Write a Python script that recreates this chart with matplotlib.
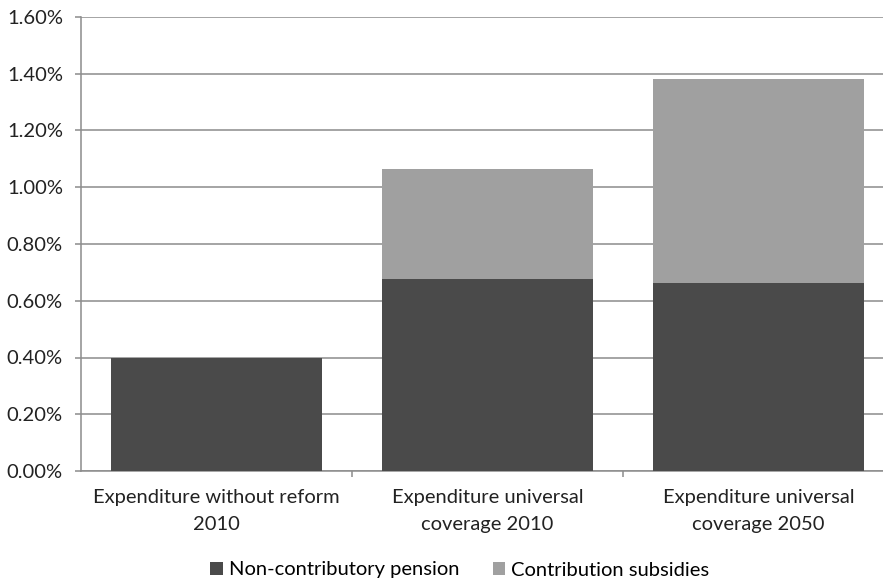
import matplotlib.pyplot as plt
from matplotlib.ticker import FuncFormatter, FixedLocator, NullFormatter

categories = ["Expenditure without reform\n2010",
              "Expenditure universal\ncoverage 2010",
              "Expenditure universal\ncoverage 2050"]
non_contributory = [0.40, 0.675, 0.661]
contribution_subsidies = [0.0, 0.388, 0.722]

plt.rcParams['font.family'] = ['Lato', 'DejaVu Sans']

fig = plt.figure(figsize=(8.83, 5.82), dpi=100)
ax = fig.add_axes([81 / 883, 1 - 471 / 582, 813 / 883, 454 / 582])

x = range(len(categories))
ax.bar(x, non_contributory, width=0.78, color='#4a4a4a',
       label='Non-contributory pension', zorder=3)
ax.bar(x, contribution_subsidies, width=0.78, bottom=non_contributory,
       color='#a0a0a0', label='Contribution subsidies', zorder=3)

ax.set_xlim(-0.5, 2.5)
ax.set_ylim(0, 1.6)
ax.set_yticks([i * 0.2 for i in range(9)])
ax.yaxis.set_major_formatter(FuncFormatter(lambda v, p: f'{v:.2f}%'))
ax.yaxis.grid(True, color='#8c8c8c', linewidth=1.1, zorder=0)

# category labels centred under bars, tick marks between them
ax.set_xticks(list(x))
ax.set_xticklabels(categories, fontsize=14.5, color='#222222', linespacing=1.7)
ax.tick_params(axis='x', length=0, pad=13)
ax.xaxis.set_minor_locator(FixedLocator([0.5, 1.5]))
ax.xaxis.set_minor_formatter(NullFormatter())
ax.tick_params(axis='x', which='minor', length=4, color='#8c8c8c', width=1.1)
ax.tick_params(axis='y', length=4, color='#8c8c8c', width=1.1, labelsize=14.5,
               labelcolor='#222222', pad=9)

for side in ['top', 'right']:
    ax.spines[side].set_visible(False)
for side in ['left', 'bottom']:
    ax.spines[side].set_color('#8c8c8c')
    ax.spines[side].set_linewidth(1.1)

fig.legend(loc='center', bbox_to_anchor=(460 / 883, 1 - 570 / 582), ncol=2,
           frameon=False, fontsize=14.5, handlelength=0.6, handleheight=0.6,
           handletextpad=0.3, columnspacing=1.7)

fig.savefig('out.png', dpi=100)
